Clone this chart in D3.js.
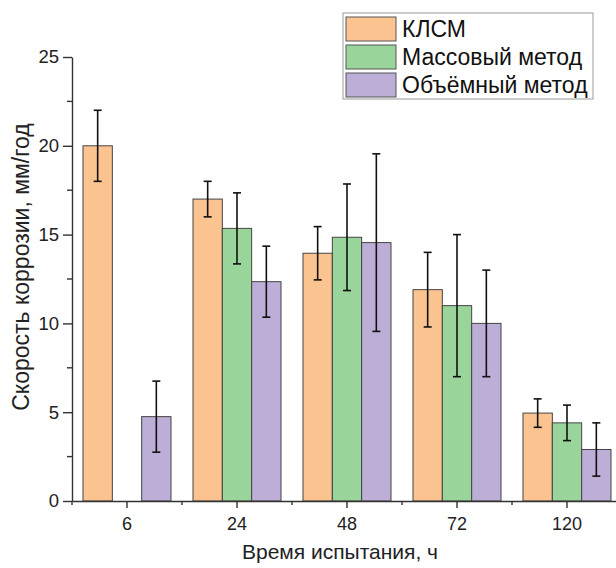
<!DOCTYPE html>
<html>
<head>
<meta charset="utf-8">
<script src="https://cdn.jsdelivr.net/npm/d3@7"></script>
<style>
  body { margin: 0; background: #fff; }
  svg { display: block; font-family: "Liberation Sans", Arial, sans-serif; }
</style>
</head>
<body>
<div id="chart"></div>
<script>
// data
const categories = ["6", "24", "48", "72", "120"];
const seriesNames = ["КЛСМ", "Массовый метод", "Объёмный метод"];
const klsm = [20, 17, 13.95, 11.9, 4.95];
const klsmErr = [2, 1, 1.5, 2.1, 0.8];
const mass = [null, 15.35, 14.85, 11, 4.4];
const massErr = [null, 2, 3, 4, 1];
const vol = [4.75, 12.35, 14.55, 10, 2.9];
const volErr = [2, 2, 5, 3, 1.5];
const yTicks = [0, 5, 10, 15, 20, 25];
const colors = ["#fac390", "#99d59b", "#bcaed6"];

let w = 616, h = 568,
    margin = ({ top: 57, right: -6, bottom: 67, left: 72 });

const svg = d3.select("#chart")
  .append("svg")
  .attr("width", w)
  .attr("height", h);

const values = [klsm, mass, vol];
const errors = [klsmErr, massErr, volErr];
let rows = [];
categories.forEach((c, i) => {
  seriesNames.forEach((s, j) => {
    if (values[j][i] != null) rows.push({ cat: c, s: s, j: j, v: values[j][i], e: errors[j][i] });
  });
});

let x = d3.scaleBand()
  .domain(categories)
  .range([margin.left, w - margin.right])
  .paddingInner(0.2)
  .paddingOuter(0.1);

let xs = d3.scaleBand()
  .domain(seriesNames)
  .range([0, x.bandwidth()]);

let y = d3.scaleLinear()
  .domain([0, 25])
  .range([h - margin.bottom, margin.top]);

// bars
svg.append("g")
  .selectAll("rect")
  .data(rows)
  .join("rect")
  .attr("x", d => x(d.cat) + xs(d.s))
  .attr("y", d => y(d.v))
  .attr("width", xs.bandwidth())
  .attr("height", d => y(0) - y(d.v))
  .attr("fill", d => colors[d.j])
  .attr("stroke", "#444")
  .attr("stroke-width", 1);

// error bars
const eb = svg.append("g")
  .attr("stroke", "#111")
  .attr("stroke-width", 1.6)
  .selectAll("g")
  .data(rows)
  .join("g")
  .attr("transform", d => `translate(${x(d.cat) + xs(d.s) + xs.bandwidth() / 2},0)`);
eb.append("line")
  .attr("y1", d => y(d.v + d.e))
  .attr("y2", d => y(d.v - d.e));
eb.append("line")
  .attr("x1", -4).attr("x2", 4)
  .attr("y1", d => y(d.v + d.e)).attr("y2", d => y(d.v + d.e));
eb.append("line")
  .attr("x1", -4).attr("x2", 4)
  .attr("y1", d => y(d.v - d.e)).attr("y2", d => y(d.v - d.e));

// x axis
const xAxis = svg.append("g")
  .attr("transform", `translate(0,${y(0)})`)
  .call(d3.axisBottom(x).tickSize(7).tickSizeOuter(0).tickPadding(9));
xAxis.select(".domain").attr("stroke", "#333").attr("stroke-width", 1.4);
xAxis.selectAll(".tick line").attr("stroke", "#333").attr("stroke-width", 1.4);
xAxis.selectAll("text").attr("font-size", 18).attr("fill", "#222");

// minor x ticks between groups
svg.append("g")
  .selectAll("line")
  .data(categories)
  .join("line")
  .attr("x1", d => x(d) - x.step() * x.paddingInner() / 2)
  .attr("x2", d => x(d) - x.step() * x.paddingInner() / 2)
  .attr("y1", y(0))
  .attr("y2", y(0) + 4)
  .attr("stroke", "#333")
  .attr("stroke-width", 1.4);

// y axis
const yAxis = svg.append("g")
  .attr("transform", `translate(${margin.left},0)`)
  .call(d3.axisLeft(y).tickValues(yTicks).tickSize(9).tickSizeOuter(0).tickPadding(4));
yAxis.select(".domain").attr("stroke", "#333").attr("stroke-width", 1.4);
yAxis.selectAll(".tick line").attr("stroke", "#333").attr("stroke-width", 1.4);
yAxis.selectAll("text").attr("font-size", 18.5).attr("fill", "#222");

svg.append("g")
  .selectAll("line")
  .data(yTicks.slice(0, -1).map(t => t + 2.5))
  .join("line")
  .attr("x1", margin.left - 5)
  .attr("x2", margin.left)
  .attr("y1", d => y(d))
  .attr("y2", d => y(d))
  .attr("stroke", "#333")
  .attr("stroke-width", 1.4);

// axis titles
svg.append("text")
  .attr("x", 340)
  .attr("y", 559)
  .attr("text-anchor", "middle")
  .attr("font-size", 21)
  .attr("fill", "#222")
  .text("Время испытания, ч");

svg.append("text")
  .attr("transform", `translate(29,${267}) rotate(-90)`)
  .attr("text-anchor", "middle")
  .attr("font-size", 23)
  .attr("fill", "#222")
  .text("Скорость коррозии, мм/год");

// legend
const lg = svg.append("g").attr("transform", "translate(343,13)");
lg.append("rect")
  .attr("width", 250).attr("height", 86)
  .attr("fill", "#fff").attr("stroke", "#999").attr("stroke-width", 1);
const li = lg.selectAll("g.item")
  .data(seriesNames)
  .join("g")
  .attr("class", "item")
  .attr("transform", (d, i) => `translate(3,${4 + i * 28})`);
li.append("rect")
  .attr("width", 50).attr("height", 24)
  .attr("fill", (d, i) => colors[i])
  .attr("stroke", "#555").attr("stroke-width", 1);
li.append("text")
  .attr("x", 56).attr("y", 20)
  .attr("font-size", 23)
  .attr("fill", "#111")
  .text(d => d);
</script>
</body>
</html>
